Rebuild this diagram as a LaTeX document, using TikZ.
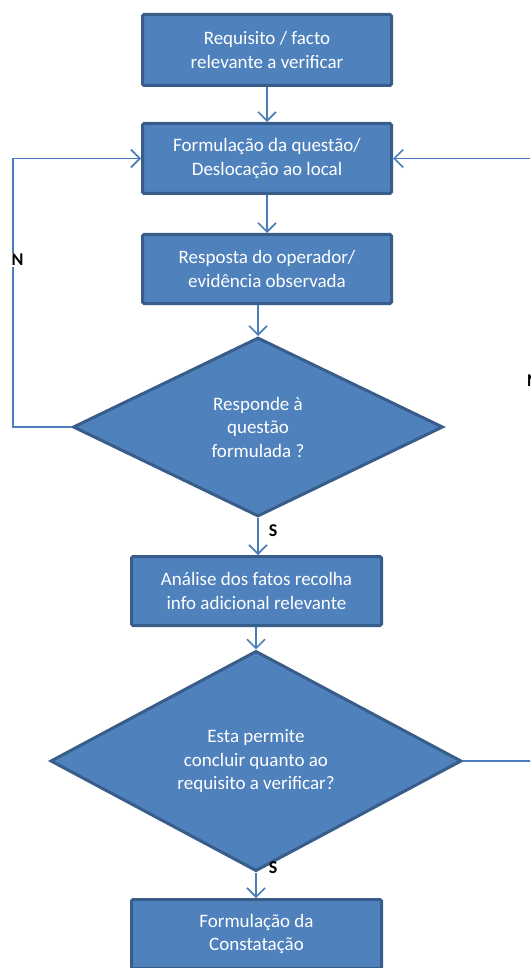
\documentclass[tikz,border=0pt]{standalone}
\usepackage{fontspec}
\setmainfont{Carlito}
\usetikzlibrary{shapes.geometric,arrows.meta}
\definecolor{boxfill}{HTML}{4F81BD}
\definecolor{boxline}{HTML}{385D8A}
\definecolor{flow}{HTML}{4A7EBB}
\begin{document}
\begin{tikzpicture}[x=1pt,y=-1pt,
  stepbox/.style={rectangle, draw=boxline, fill=boxfill, line width=3pt,
    rounded corners=1.5pt, minimum width=249pt, minimum height=69pt,
    text=white, align=center, inner sep=0pt,
    font=\fontsize{19}{23.5}\selectfont},
  decision/.style={diamond, draw=boxline, fill=boxfill, line width=3pt,
    text=white, align=center, inner sep=0pt,
    font=\fontsize{19}{23.5}\selectfont},
  flowline/.style={draw=flow, line width=1.6pt},
  arr/.style={flowline, -{Straight Barb[length=9pt,width=18pt,line width=1.6pt]}},
  answer/.style={font=\fontsize{18}{22}\selectfont\bfseries, text=black,
    inner sep=1.5pt}
]
\useasboundingbox (0,0) rectangle (530,968);
\clip (0,0) rectangle (530,968);

% process boxes
\node[stepbox, minimum height=71pt] (b1) at (267,50)
  {Requisito / facto\\relevante a verificar};
\node[stepbox, minimum height=70pt] (b2) at (267,158.5)
  {Formulação da questão/\\Deslocação ao local};
\node[stepbox] (b3) at (267,269)
  {Resposta do operador/\\evidência observada};
\node[stepbox, minimum width=250pt] (b4) at (256.5,591)
  {Análise dos fatos recolha\\info adicional relevante};
\node[stepbox, minimum width=250pt] (b5) at (256.5,934)
  {Formulação da\\Constatação};

% decisions
\node[decision, minimum width=370pt, minimum height=179pt] (d1) at (258,427)
  {Responde à\\questão\\formulada ?};
\node[decision, minimum width=411pt, minimum height=179pt] (d2) at (256,761)
  {Esta permite\\concluir quanto ao\\requisito a verificar?};

% main flow
\draw[arr] (b1) -- (b2);
\draw[arr] (b2) -- (b3);
\draw[arr] (b3.south -| d1.north) -- (d1.north);
\draw[arr] (d1.south) -- (d1.south |- b4.north);
\draw[arr] (b4.south -| d2.north) -- (d2.north);
\draw[arr] (d2.south) -- (d2.south |- b5.north);

% return loops
\coordinate (lc) at (12.7,427);
\coordinate (rc) at (545,761);
\draw[arr] (d1.west) -- (lc) |- (b2.west);
\draw[arr] (d2.east) -- (rc) |- (b2.east);

% answer labels
\node[answer, fill=white] (nl) at (17.5,260) {N};
\node[answer, fill=white] (nr) at (533,381) {N};
\node[answer] (s1) at (273,531) {S};
\node[answer] (s2) at (273,868) {S};
\end{tikzpicture}
\end{document}
